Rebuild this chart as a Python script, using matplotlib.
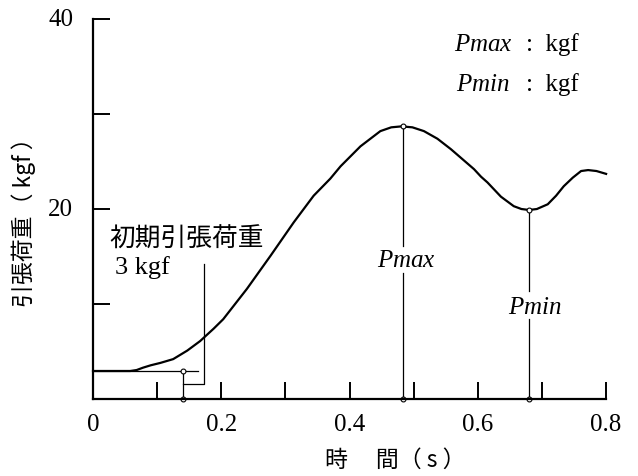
import matplotlib
matplotlib.use('Agg')
import matplotlib.pyplot as plt

plt.rcParams['font.family'] = ['Liberation Serif', 'Noto Sans CJK JP', 'DejaVu Sans']
plt.rcParams['mathtext.fontset'] = 'custom'
plt.rcParams['mathtext.it'] = 'Liberation Serif:italic'
plt.rcParams['mathtext.rm'] = 'Liberation Serif'

# load curve (time s, load kgf)
t = [0, 0.03, 0.058, 0.068, 0.078, 0.09, 0.105, 0.125, 0.147, 0.167, 0.188, 0.203,
     0.24, 0.277, 0.313, 0.344, 0.37, 0.386, 0.417, 0.448, 0.465, 0.481,
     0.498, 0.516, 0.537, 0.558, 0.594, 0.605, 0.615, 0.636, 0.656, 0.668, 0.680,
     0.692, 0.709, 0.722, 0.734, 0.748, 0.761, 0.772, 0.785, 0.80]
load = [2.95, 2.95, 2.95, 3.05, 3.3, 3.55, 3.8, 4.2, 5.1, 6.1, 7.4, 8.4,
        11.6, 15.1, 18.6, 21.4, 23.2, 24.5, 26.6, 28.2, 28.6, 28.7,
        28.6, 28.2, 27.4, 26.3, 24.2, 23.4, 22.8, 21.3, 20.3, 20.0, 19.9,
        20.0, 20.5, 21.4, 22.4, 23.3, 24.0, 24.1, 24.0, 23.7]

t_max, p_max = 0.483, 28.7
t_min, p_min = 0.680, 19.9
t_init, p_init = 0.14, 3.0

x_ticks = [0.1, 0.2, 0.3, 0.4, 0.5, 0.6, 0.7, 0.8]
x_labels = ['0', '0.2', '0.4', '0.6', '0.8']
y_ticks = [10, 20, 30, 40]
y_labels = ['20', '40']

fig = plt.figure(figsize=(6.38, 4.77), dpi=100)
ax = fig.add_axes([0.1458, 0.1614, 0.8042, 0.7966])

ax.plot(t, load, color='black', lw=1.6, clip_on=False)

# initial load marker
ax.plot([0, 0.163], [p_init, p_init], color='black', lw=0.9)
ax.plot([t_init, t_init], [0, p_init], color='black', lw=0.9)
ax.plot([t_init, t_init], [0, p_init], 'o', ms=3.5, mfc='white', mec='black', mew=0.8, clip_on=False)
ax.plot([0.173, 0.173, t_init], [14.2, 1.6, 1.6], color='black', lw=0.9)

# Pmax / Pmin lines with gap for label
ax.plot([t_max, t_max], [0, 13.3], color='black', lw=0.9)
ax.plot([t_max, t_max], [16.1, p_max], color='black', lw=0.9)
ax.plot([t_max, t_max], [0, p_max], 'o', ms=3.5, mfc='white', mec='black', mew=0.8, clip_on=False)
ax.plot([t_min, t_min], [0, 8.4], color='black', lw=0.9)
ax.plot([t_min, t_min], [11.4, p_min], color='black', lw=0.9)
ax.plot([t_min, t_min], [0, p_min], 'o', ms=3.5, mfc='white', mec='black', mew=0.8, clip_on=False)

ax.text(0.489, 14.6, r'$\mathit{Pmax}$', fontsize=18, ha='center', va='center')
ax.text(0.689, 9.7, r'$\mathit{Pmin}$', fontsize=18, ha='center', va='center')
ax.text(0.5625, 37.4, r'$\mathit{Pmax}$', fontsize=18, ha='left', va='center')
ax.text(0.566, 33.2, r'$\mathit{Pmin}$', fontsize=18, ha='left', va='center')
ax.text(0.675, 37.4, ':  kgf', fontsize=18, ha='left', va='center')
ax.text(0.675, 33.2, ':  kgf', fontsize=18, ha='left', va='center')
ax.text(0.026, 16.9, '初期引張荷重', fontsize=18.5, ha='left', va='center',
        family=['Noto Sans CJK JP'])
ax.text(0.034, 14.0, '3 kgf', fontsize=19, ha='left', va='center')

ax.set_xlim(0, 0.8)
ax.set_ylim(0, 40)
ax.spines['top'].set_visible(False)
ax.spines['right'].set_visible(False)
ax.spines['left'].set_linewidth(1.6)
ax.spines['bottom'].set_linewidth(1.6)

ax.set_xticks(x_ticks)
ax.set_xticklabels([])
ax.set_yticks(y_ticks)
ax.set_yticklabels([])
ax.tick_params(direction='in', length=12, width=1.4)
for i, lab in enumerate(x_labels):
    ax.text(i * 0.2, -2.6, lab, fontsize=18, ha='center', va='center')
for i, lab in enumerate(y_labels):
    ax.text(-0.031, (i + 1) * 20, lab, fontsize=18, ha='right', va='center')

fig.text(0.037, 0.545, '引張荷重（ kgf ）', fontsize=16.5, rotation=90, ha='center', va='center',
         family=['Noto Sans CJK JP'])
fig.text(0.619, 0.035, '時　 間（ s ）', fontsize=16.5, ha='center', va='center',
         family=['Noto Sans CJK JP'])

fig.savefig('out.png', dpi=100)
